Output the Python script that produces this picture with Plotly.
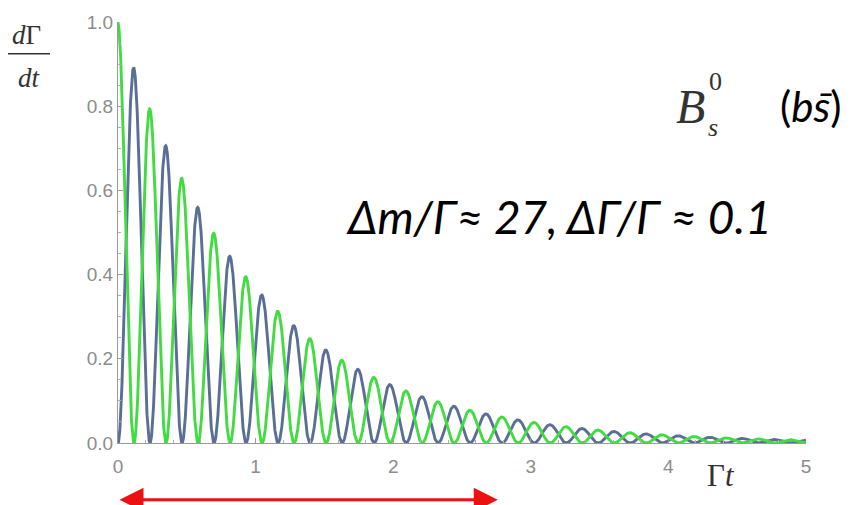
import numpy as np
import plotly.graph_objects as go

# Parameters
DM_OVER_GAMMA = 27.0      # Δm/Γ
DGAMMA_OVER_GAMMA = 0.1   # ΔΓ/Γ
T_MAX = 5.0
ARROW_T_END = 2.76        # right end of red range arrow (in Γt units)

x_ticks = [0, 1, 2, 3, 4, 5]
y_ticks = [0.0, 0.2, 0.4, 0.6, 0.8, 1.0]
y_tick_labels = ["0.0", "0.2", "0.4", "0.6", "0.8", "1.0"]

t = np.linspace(0, T_MAX, 4001)
env = np.exp(-t)
hyp = np.cosh(DGAMMA_OVER_GAMMA * t / 2)
osc = np.cos(DM_OVER_GAMMA * t)
rate_unmixed = env * (hyp + osc) / 2   # green
rate_mixed = env * (hyp - osc) / 2     # blue

W, H = 854, 505
L, R, T, B = 118, 48, 20, 62
PW, PH = W - L - R, H - T - B

def px(xp):
    return (xp - L) / PW

def py(yp):
    return (H - B - yp) / PH

fig = go.Figure()
fig.add_trace(go.Scatter(x=t, y=rate_mixed, mode="lines",
                         line=dict(color="#5a6e96", width=2.9), hoverinfo="skip"))
fig.add_trace(go.Scatter(x=t, y=rate_unmixed, mode="lines",
                         line=dict(color="#42dc42", width=2.9), hoverinfo="skip"))

axis_common = dict(showgrid=False, zeroline=False, showline=True, linecolor="#9a9a9a",
                   linewidth=1, ticks="inside", ticklen=5, tickcolor="#9a9a9a",
                   tickfont=dict(family="Liberation Sans, Arial", size=19, color="#8c8c8c"))

fig.update_layout(
    width=W, height=H,
    margin=dict(l=L, r=R, t=T, b=B),
    paper_bgcolor="white", plot_bgcolor="white",
    showlegend=False,
    xaxis=dict(range=[0, T_MAX], tickvals=x_ticks, ticktext=[str(v) for v in x_ticks],
               minor=dict(ticks="inside", ticklen=3, tickcolor="#b0b0b0", dtick=0.2),
               ticklabelstandoff=6, **axis_common),
    yaxis=dict(range=[0, 1.0], tickvals=y_ticks, ticktext=y_tick_labels,
               minor=dict(ticks="inside", ticklen=3, tickcolor="#b0b0b0", dtick=0.05),
               ticklabelstandoff=0, **axis_common),
)
fig.update_traces(cliponaxis=False)

serif = "Liberation Serif, Times New Roman, serif"
anns = [
    dict(x=px(27), y=py(33), text="<i>d</i>Γ", font=dict(family=serif, size=27, color="#333")),
    dict(x=px(29), y=py(76), text="<i>dt</i>", font=dict(family=serif, size=27, color="#333")),
    dict(x=px(721), y=py(476), text="Γ<i>t</i>", font=dict(family=serif, size=31, color="#333")),
    dict(x=px(690), y=py(105), text="<i>B</i>", font=dict(family=serif, size=48, color="#333")),
    dict(x=px(715), y=py(80), text="0", font=dict(family=serif, size=26, color="#333")),
    dict(x=px(713), y=py(126), text="<i>s</i>", font=dict(family=serif, size=26, color="#333")),
    dict(x=px(811), y=py(104), text="(<i>bs̄</i>)", font=dict(family="Lato, Noto Sans", size=42, color="black")),
    dict(x=px(559), y=py(215), text="<i>Δm/Γ≈ 27, ΔΓ/Γ ≈ 0.1</i>",
         font=dict(family="Lato, Noto Sans", size=46, color="black")),
]
for a in anns:
    fig.add_annotation(xref="paper", yref="paper", showarrow=False,
                       xanchor="center", yanchor="middle", **a)

# fraction bar
fig.add_shape(type="line", xref="paper", yref="paper",
              x0=px(8), x1=px(50), y0=py(52), y1=py(52),
              line=dict(color="#333", width=1.5))

# red double-headed arrow below the axis (from Γt=0 to ARROW_T_END)
arrow_len_px = ARROW_T_END / T_MAX * PW
fig.add_annotation(xref="paper", yref="paper", axref="pixel", ayref="pixel",
                   x=ARROW_T_END / T_MAX, y=py(500), ax=-arrow_len_px, ay=0,
                   showarrow=True, arrowhead=2, arrowside="end+start",
                   arrowsize=1.6, arrowwidth=3, arrowcolor="#ee1111", text="",
                   standoff=0, startstandoff=0)

fig.write_html("out.html", config={"displayModeBar": False},
               post_script="document.body.style.margin='0';document.body.style.overflow='hidden';")
